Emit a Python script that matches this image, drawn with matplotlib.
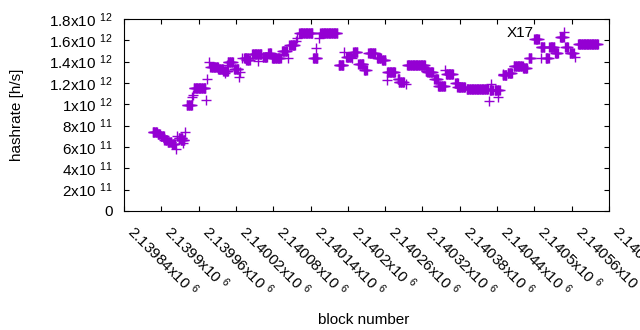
import numpy as np
import matplotlib
matplotlib.use("Agg")
import matplotlib.pyplot as plt
from matplotlib.ticker import FixedLocator, FuncFormatter

matplotlib.rcParams["font.family"] = ["Liberation Sans", "DejaVu Sans"]
matplotlib.rcParams["mathtext.fontset"] = "custom"
matplotlib.rcParams["mathtext.rm"] = "Liberation Sans"
matplotlib.rcParams["mathtext.default"] = "regular"

# hashrate runs: first block, last block, hashrate in 1e9 h/s
blk_from = [2139886, 2139894, 2139899, 2139905, 2139910, 2139917, 2139924, 2139926,
            2139928, 2139931, 2139935, 2139938, 2139941, 2139950, 2139951, 2139952,
            2139972, 2139974, 2139976, 2139979, 2139991, 2140000, 2140003, 2140006,
            2140007, 2140017, 2140025, 2140027, 2140030, 2140033, 2140037, 2140046,
            2140056, 2140063, 2140072, 2140078, 2140094, 2140103, 2140106, 2140117,
            2140118, 2140122, 2140144, 2140148, 2140153, 2140156, 2140185, 2140194,
            2140197, 2140206, 2140209, 2140217, 2140226, 2140233, 2140247, 2140255,
            2140263, 2140263, 2140280, 2140282, 2140293, 2140295, 2140325, 2140328,
            2140339, 2140345, 2140356, 2140358, 2140373, 2140376, 2140391, 2140427,
            2140428, 2140430, 2140436, 2140441, 2140449, 2140449, 2140457, 2140467,
            2140482, 2140491, 2140500, 2140510, 2140510, 2140518, 2140524, 2140533,
            2140541, 2140547, 2140550, 2140557, 2140565, 2140570]
blk_to = [2139893, 2139898, 2139904, 2139909, 2139916, 2139922, 2139924, 2139926,
          2139934, 2139937, 2139935, 2139938, 2139949, 2139950, 2139951, 2139971,
          2139972, 2139974, 2139976, 2139991, 2139999, 2140007, 2140003, 2140006,
          2140015, 2140024, 2140025, 2140027, 2140030, 2140039, 2140042, 2140061,
          2140056, 2140070, 2140076, 2140092, 2140102, 2140103, 2140115, 2140117,
          2140118, 2140143, 2140151, 2140148, 2140153, 2140183, 2140193, 2140194,
          2140205, 2140206, 2140215, 2140225, 2140230, 2140244, 2140253, 2140260,
          2140276, 2140263, 2140283, 2140290, 2140293, 2140324, 2140329, 2140337,
          2140345, 2140356, 2140356, 2140369, 2140377, 2140388, 2140425, 2140427,
          2140433, 2140430, 2140444, 2140441, 2140455, 2140449, 2140464, 2140481,
          2140488, 2140495, 2140507, 2140510, 2140516, 2140523, 2140532, 2140538,
          2140547, 2140547, 2140554, 2140563, 2140565, 2140602]
rate = [745, 720, 703, 665, 650, 628, 581, 700,
        689, 670, 640, 743, 998, 1069, 1087, 1153,
        1040, 1237, 1395, 1353, 1334, 1315, 1290, 1370,
        1400, 1327, 1260, 1306, 1431, 1439, 1418, 1475,
        1406, 1447, 1481, 1439, 1497, 1431, 1556, 1590,
        1625, 1666, 1437, 1528, 1625, 1666, 1366, 1488,
        1447, 1431, 1494, 1375, 1322, 1478, 1431, 1414,
        1303, 1228, 1237, 1206, 1188, 1369, 1312, 1306,
        1237, 1175, 1322, 1281, 1197, 1165, 1141, 1031,
        1137, 1188, 1134, 1072, 1275, 1281, 1290, 1361,
        1345, 1434, 1608, 1431, 1540, 1434, 1540, 1478,
        1631, 1681, 1540, 1478, 1447, 1566]

x_ticks = [2139840, 2139900, 2139960, 2140020, 2140080, 2140140, 2140200,
           2140260, 2140320, 2140380, 2140440, 2140500, 2140560, 2140620]
y_ticks = [0, 2e11, 4e11, 6e11, 8e11, 1e12, 1.2e12, 1.4e12, 1.6e12, 1.8e12]

blocks = np.concatenate([np.arange(a, b + 1) for a, b in zip(blk_from, blk_to)])
hashrate = np.concatenate([np.full(b - a + 1, r * 1e9)
                           for a, b, r in zip(blk_from, blk_to, rate)])


def sci(v, pos=None):
    if v == 0:
        return "0"
    e = int(np.floor(np.log10(abs(v)) + 1e-9))
    m = f"{v / 10 ** e:.6f}".rstrip("0").rstrip(".")
    return rf"{m}x10 $^{{{e}}}$"


fs = 11
fig = plt.figure(figsize=(6.4, 3.3), dpi=100)
ax = fig.add_axes([124 / 640, 1 - 211 / 330, (609 - 124) / 640, (211 - 19) / 330])

ax.plot(blocks, hashrate, linestyle="none", marker="+", markersize=6.5,
        markeredgewidth=1.0, color="#9400d3")

ax.set_xlim(2139840, 2140620)
ax.set_ylim(0, 1.8e12)
ax.xaxis.set_major_locator(FixedLocator(x_ticks))
ax.yaxis.set_major_locator(FixedLocator(y_ticks))
ax.xaxis.set_major_formatter(FuncFormatter(sci))
ax.yaxis.set_major_formatter(FuncFormatter(sci))
ax.tick_params(direction="in", length=3.5, width=0.8, top=True, right=True,
               labelsize=fs, colors="black")
ax.tick_params(axis="y", pad=8)
ax.tick_params(axis="x", pad=8)
for lab in ax.get_xticklabels():
    lab.set_rotation(-45)
    lab.set_ha("left")
    lab.set_va("top")

ax.text(2140477, 1.673e12, "X17", fontsize=fs, ha="center", va="center")

ax.set_xlabel("block number", fontsize=fs)
ax.set_ylabel("hashrate [h/s]", fontsize=fs)
ax.xaxis.set_label_coords(0.4935, -0.531)
ax.yaxis.set_label_coords(-0.206, 0.5)

fig.savefig("out.png", dpi=100)
